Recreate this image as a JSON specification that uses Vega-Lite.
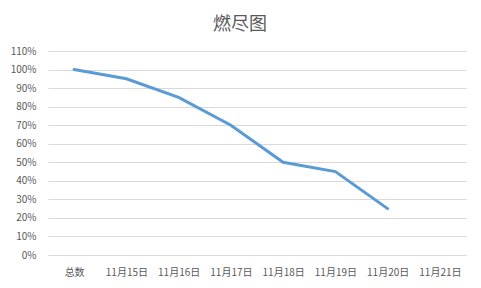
{
  "$schema": "https://vega.github.io/schema/vega-lite/v6.json",
  "width": 418,
  "height": 204,
  "autosize": {"type": "none"},
  "padding": {"left": 48, "top": 51, "right": 15, "bottom": 33},
  "background": "white",
  "title": {
    "text": "燃尽图",
    "font": "Noto Sans CJK SC",
    "fontSize": 18,
    "fontWeight": "normal",
    "color": "#595959",
    "anchor": "middle",
    "dx": -17,
    "offset": 12
  },
  "config": {
    "view": {"stroke": null},
    "axis": {
      "labelFont": "Noto Sans CJK SC",
      "labelColor": "#595959",
      "labelFontSize": 10,
      "ticks": false,
      "domain": false,
      "gridColor": "#D9D9D9",
      "gridWidth": 1,
      "title": null
    }
  },
  "data": {
    "values": [
      {"day": "总数", "remaining": 1.0},
      {"day": "11月15日", "remaining": 0.95},
      {"day": "11月16日", "remaining": 0.85},
      {"day": "11月17日", "remaining": 0.70},
      {"day": "11月18日", "remaining": 0.50},
      {"day": "11月19日", "remaining": 0.45},
      {"day": "11月20日", "remaining": 0.25},
      {"day": "11月21日", "remaining": null}
    ]
  },
  "mark": {"type": "line", "color": "#5B9BD5", "strokeWidth": 3, "strokeCap": "round"},
  "encoding": {
    "x": {
      "field": "day",
      "type": "nominal",
      "sort": null,
      "scale": {"domain": ["总数", "11月15日", "11月16日", "11月17日", "11月18日", "11月19日", "11月20日", "11月21日"], "padding": 0.5},
      "axis": {"labelAngle": 0, "grid": false, "labelPadding": 12, "domain": true, "domainColor": "#D9D9D9"}
    },
    "y": {
      "field": "remaining",
      "type": "quantitative",
      "scale": {"domain": [0, 1.1], "nice": false},
      "axis": {"values": [0, 0.1, 0.2, 0.3, 0.4, 0.5, 0.6, 0.7, 0.8, 0.9, 1.0, 1.1], "format": ".0%", "labelPadding": 12}
    }
  }
}
